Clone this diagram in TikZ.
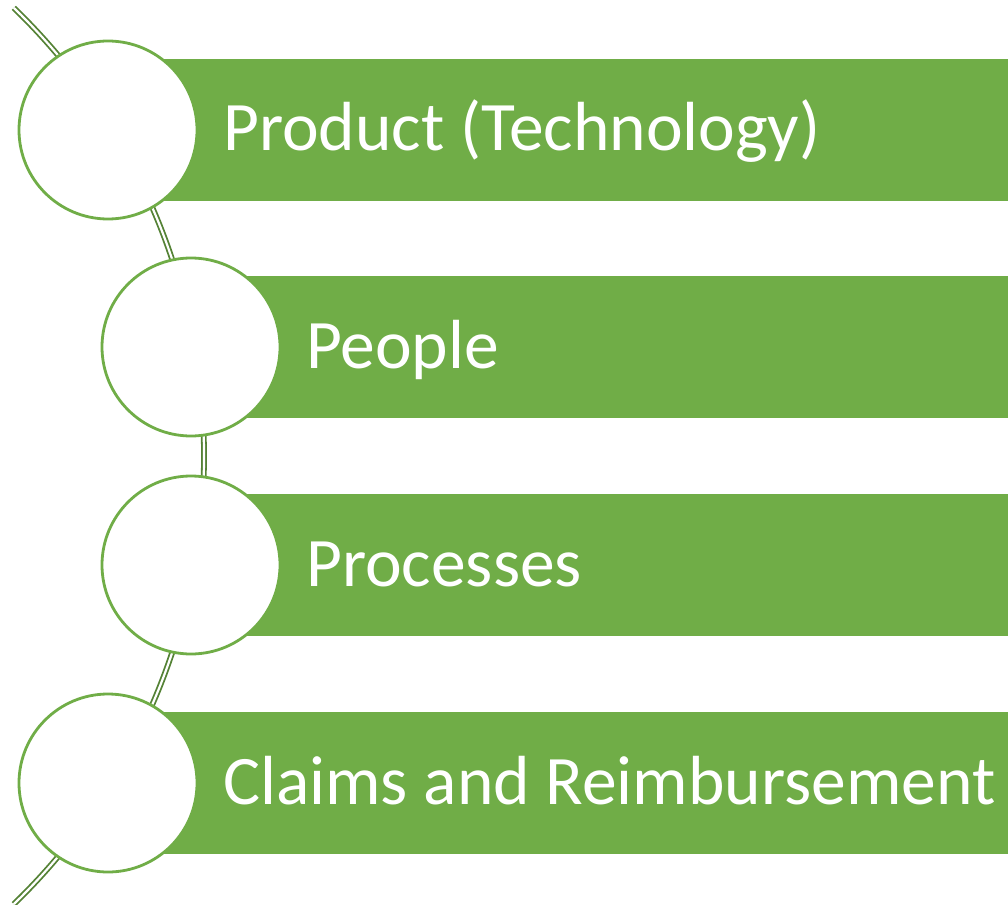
\documentclass[tikz,border=0pt]{standalone}
\usepackage{fontspec}
\setmainfont{Carlito}
\definecolor{barGreen}{HTML}{70AD47}
\definecolor{arcGreen}{HTML}{548235}
\tikzset{
  barbox/.style={fill=barGreen, draw=none},
  ringnode/.style={circle, draw=barGreen, line width=2.8pt, fill=white, minimum size=178pt, inner sep=0pt},
  labeltext/.style={anchor=base west, inner sep=0pt, text=white, font=\fontsize{69.5}{80}\selectfont},
  spine/.style={draw=arcGreen, double=white, line width=1.8pt, double distance=2.2pt}
}
\begin{document}
\begin{tikzpicture}[x=1pt,y=-1pt]
\useasboundingbox (0,0) rectangle (1008,904);
% spine arc
\coordinate (arcC) at (-419,456);
\draw[spine] (arcC) ++(-46:623) coordinate (topEnd) arc[start angle=-46, end angle=46, radius=623] coordinate (bottomEnd);
% bars
\foreach \n/\cx/\cy in {1/108/130, 2/191/347, 3/191/565, 4/108/783}{
  \fill[barbox] (\cx,\cy-71) rectangle (1008,\cy+71);
}
% circles
\node[ringnode] (c1) at (108,130) {};
\node[ringnode] (c2) at (191,347) {};
\node[ringnode] (c3) at (191,565) {};
\node[ringnode] (c4) at (108,783) {};
% labels
\node[labeltext] (t1) at (223,151) {Product (Technology)};
\node[labeltext] (t2) at (306,368) {People};
\node[labeltext] (t3) at (306,586) {Processes};
\node[labeltext] (t4) at (223,804) {Claims and Reimbursement};
\end{tikzpicture}
\end{document}
